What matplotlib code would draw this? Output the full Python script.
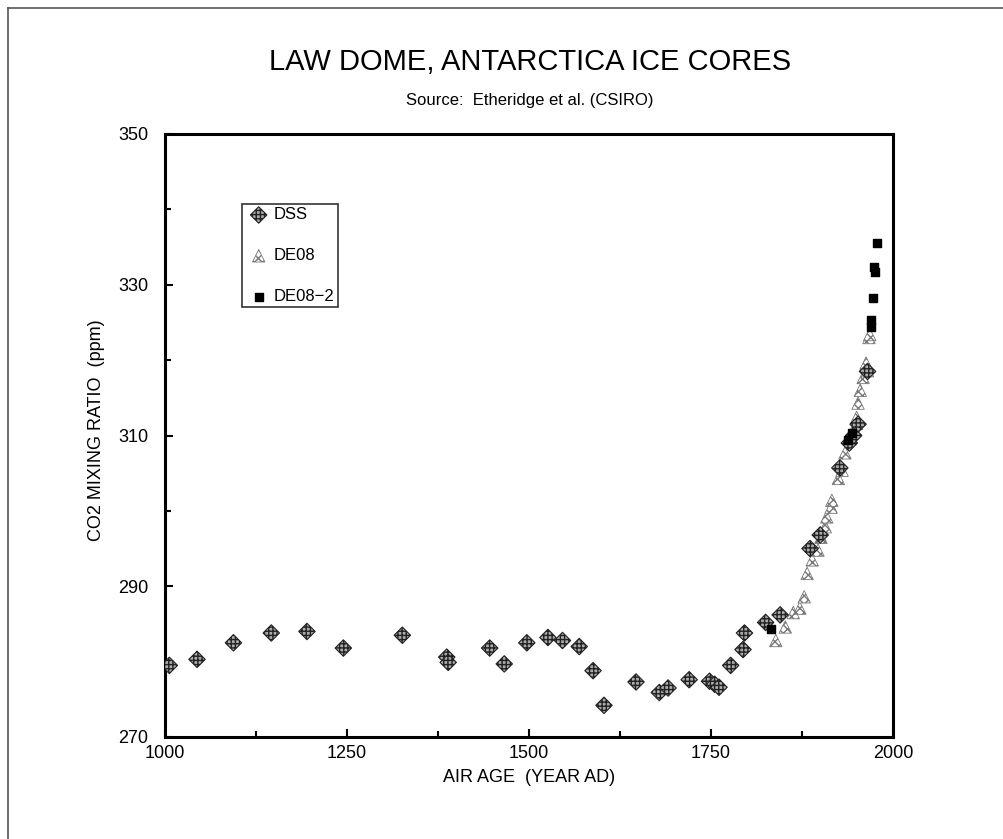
import matplotlib
matplotlib.use("Agg")
import matplotlib.pyplot as plt
from matplotlib.lines import Line2D
from matplotlib.ticker import MultipleLocator

plt.rcParams['font.family'] = ['Liberation Sans', 'DejaVu Sans']

# DSS core
dss_year = [1006, 1044, 1094, 1146, 1195, 1245, 1326, 1387, 1389, 1446, 1466, 1497,
            1526, 1546, 1569, 1588, 1603, 1647, 1679, 1691, 1720, 1748, 1755, 1761,
            1777, 1794, 1796, 1825, 1845, 1886, 1900, 1927, 1940, 1946, 1952, 1965]
dss_co2 = [279.5, 280.3, 282.5, 283.8, 284.0, 281.8, 283.5, 280.6, 279.9, 281.8, 279.7, 282.5,
           283.2, 282.8, 282.0, 278.8, 274.2, 277.3, 275.9, 276.5, 277.6, 277.4, 277.0, 276.6,
           279.5, 281.6, 283.8, 285.2, 286.2, 295.0, 296.8, 305.7, 309.0, 310.0, 311.5, 318.5]

# DE08 core
de08_year = [1839, 1852, 1863, 1872, 1878, 1882, 1889, 1897, 1901, 1907, 1909, 1915,
             1916, 1925, 1930, 1934, 1950, 1950, 1952, 1955, 1959, 1963, 1965, 1967, 1968]
de08_co2 = [282.8, 284.6, 286.5, 287.1, 288.6, 291.7, 293.5, 294.8, 296.5, 297.9, 299.2, 300.5,
            301.4, 304.3, 305.4, 307.7, 311.6, 312.4, 314.3, 316.0, 317.7, 319.6, 318.6, 323.0, 323.4]

# DE08-2 core
de082_year = [1832, 1938, 1944, 1970, 1970, 1973, 1975, 1974, 1978]
de082_co2 = [284.3, 309.4, 310.3, 324.4, 325.3, 328.2, 331.7, 332.3, 335.5]

x_ticks = [1000, 1250, 1500, 1750, 2000]
y_ticks = [270, 290, 310, 330, 350]

fig = plt.figure(figsize=(10.04, 8.39), dpi=100)
# outer frame (top and left visible)
fig.add_artist(Line2D([8/1004, 8/1004], [0, 1 - 8/839], color='#555555', lw=1.2))
fig.add_artist(Line2D([8/1004, 1], [1 - 8/839, 1 - 8/839], color='#555555', lw=1.2))

ax = fig.add_axes([165/1004, 1 - 737/839, 728/1004, 603/839])

ax.scatter(de08_year, de08_co2, marker='^', s=80, facecolor='white', edgecolor='#777777',
           hatch='xxxx', linewidths=0.6, label='DE08', zorder=3)
ax.scatter(dss_year, dss_co2, marker='D', s=70, facecolor='#aaaaaa', edgecolor='#222222',
           hatch='++++', linewidths=0.8, label='DSS', zorder=4)
ax.scatter(de082_year, de082_co2, marker='s', s=36, facecolor='black', edgecolor='black',
           label='DE08\u22122', zorder=5)

ax.set_xlim(1000, 2000)
ax.set_ylim(270, 350)
ax.set_xticks(x_ticks)
ax.set_yticks(y_ticks)
ax.xaxis.set_minor_locator(MultipleLocator(125))
ax.yaxis.set_minor_locator(MultipleLocator(10))
ax.tick_params(which='major', direction='in', length=6, width=1.5, labelsize=13,
               top=False, right=False)
ax.tick_params(axis='x', which='major', pad=6)
ax.tick_params(axis='y', which='major', pad=12)
ax.tick_params(which='minor', direction='in', length=4, width=1.5, top=False, right=False)
for s in ax.spines.values():
    s.set_linewidth(2.2)

fig.text(530/1004, 1 - 62/839, 'LAW DOME, ANTARCTICA ICE CORES', ha='center', va='center',
         fontsize=21)
fig.text(530/1004, 1 - 100/839, 'Source:  Etheridge et al. (CSIRO)', ha='center', va='center',
         fontsize=12)
fig.text(529/1004, 1 - 777/839, 'AIR AGE  (YEAR AD)', ha='center', va='center', fontsize=13)
fig.text(97/1004, 1 - 430/839, 'CO2 MIXING RATIO  (ppm)', ha='center', va='center',
         rotation=90, fontsize=13)

handles, labels = ax.get_legend_handles_labels()
order = [1, 0, 2]
leg = ax.legend([handles[i] for i in order], [labels[i] for i in order],
                loc='upper left', bbox_to_anchor=((242 - 165) / 728, (737 - 204) / 603),
                frameon=True, fancybox=False, edgecolor='black', fontsize=12,
                labelspacing=1.55, handletextpad=0.1, handlelength=1.6, borderpad=0.2,
                borderaxespad=0)
leg.get_frame().set_linewidth(1.2)

fig.savefig('out.png', dpi=100)
